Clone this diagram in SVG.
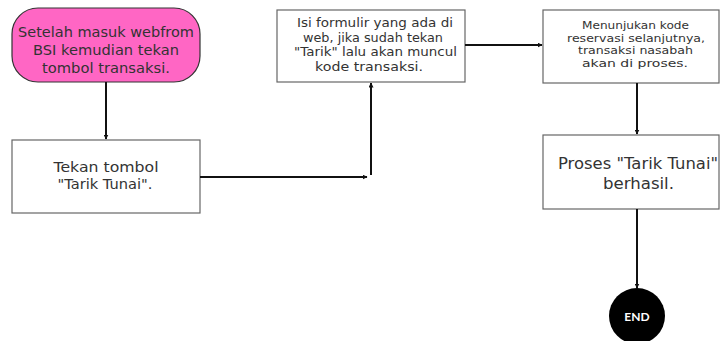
<svg xmlns="http://www.w3.org/2000/svg" width="720" height="341" viewBox="0 0 720 341">
<defs>
<marker id="ah" viewBox="0 0 10 10" refX="9" refY="5" markerWidth="5" markerHeight="5" orient="auto" markerUnits="userSpaceOnUse">
<path d="M0,0 L10,5 L0,10 Z" fill="#111"/>
</marker>
<style>
.box{fill:#fff;stroke:#666;stroke-width:1.2}
.t{font-family:"DejaVu Sans","Liberation Sans",sans-serif;fill:#333;text-anchor:middle}
.c{stroke:#111;stroke-width:2;fill:none}
</style>
</defs>
<rect width="720" height="341" fill="#fff"/>
<g id="start">
<rect x="12" y="8" width="188" height="74" rx="26" ry="26" fill="#ff66c4" stroke="#333" stroke-width="1.2"/>
<text class="t" font-size="13.5" x="106" y="37" textLength="176" lengthAdjust="spacingAndGlyphs">Setelah masuk webfrom</text>
<text class="t" font-size="13.5" x="106" y="55" textLength="146" lengthAdjust="spacingAndGlyphs">BSI kemudian tekan</text>
<text class="t" font-size="13.5" x="106" y="73" textLength="128" lengthAdjust="spacingAndGlyphs">tombol transaksi.</text>
</g>
<g id="tekan">
<rect class="box" x="12" y="140" width="188" height="73"/>
<text class="t" font-size="14" x="106" y="171.5" textLength="105" lengthAdjust="spacingAndGlyphs">Tekan tombol</text>
<text class="t" font-size="14" x="105" y="188.5" textLength="95" lengthAdjust="spacingAndGlyphs">"Tarik Tunai".</text>
</g>
<g id="isi">
<rect class="box" x="277" y="10" width="188" height="72"/>
<text class="t" font-size="11.5" x="375" y="27" textLength="156" lengthAdjust="spacingAndGlyphs">Isi formulir yang ada di</text>
<text class="t" font-size="11.5" x="373" y="41.5" textLength="140" lengthAdjust="spacingAndGlyphs">web, jika sudah tekan</text>
<text class="t" font-size="11.5" x="375.5" y="56" textLength="163" lengthAdjust="spacingAndGlyphs">"Tarik" lalu akan muncul</text>
<text class="t" font-size="11.5" x="369" y="70.5" textLength="108" lengthAdjust="spacingAndGlyphs">kode transaksi.</text>
</g>
<g id="kode">
<rect class="box" x="543" y="10" width="176" height="73"/>
<text class="t" font-size="10.5" x="635.5" y="29" textLength="107" lengthAdjust="spacingAndGlyphs">Menunjukan kode</text>
<text class="t" font-size="10.5" x="636" y="41.5" textLength="138" lengthAdjust="spacingAndGlyphs">reservasi selanjutnya,</text>
<text class="t" font-size="10.5" x="635.5" y="54" textLength="115" lengthAdjust="spacingAndGlyphs">transaksi nasabah</text>
<text class="t" font-size="10.5" x="635" y="66.5" textLength="106" lengthAdjust="spacingAndGlyphs">akan di proses.</text>
</g>
<g id="proses">
<rect class="box" x="543" y="135" width="176" height="74"/>
<text class="t" font-size="15" x="638" y="168.5" textLength="160" lengthAdjust="spacingAndGlyphs">Proses "Tarik Tunai"</text>
<text class="t" font-size="15" x="638.5" y="188.5" textLength="71" lengthAdjust="spacingAndGlyphs">berhasil.</text>
</g>
<g id="end">
<circle cx="637" cy="316" r="28" fill="#000"/>
<text x="637" y="321" font-family="Lato,'Liberation Sans',sans-serif" font-weight="bold" font-size="12" fill="#fff" text-anchor="middle">END</text>
</g>
<g id="connectors">
<line class="c" x1="106" y1="82" x2="106" y2="139" marker-end="url(#ah)"/>
<line class="c" x1="200" y1="177" x2="367" y2="177" marker-end="url(#ah)"/>
<line class="c" x1="371" y1="175" x2="371" y2="83" marker-end="url(#ah)"/>
<line class="c" x1="465" y1="45" x2="542" y2="45" marker-end="url(#ah)"/>
<line class="c" x1="637" y1="83" x2="637" y2="134" marker-end="url(#ah)"/>
<line class="c" x1="637" y1="209" x2="637" y2="288" marker-end="url(#ah)"/>
</g>
</svg>
